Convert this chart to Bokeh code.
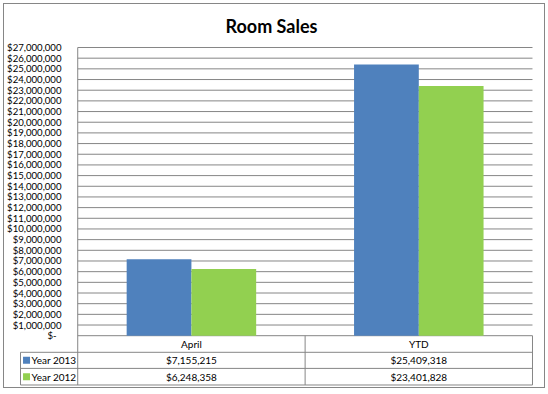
from bokeh.plotting import figure
from bokeh.models import ColumnDataSource, Range1d, FixedTicker, NumeralTickFormatter, LinearAxis
from bokeh.core.properties import value
from bokeh.embed import file_html
from bokeh.resources import INLINE

# ---- data ----
categories = ["April", "YTD"]
series_names = ["Year 2013", "Year 2012"]
year_2013 = [7155215, 25409318]
year_2012 = [6248358, 23401828]
series_colors = ["#4F81BD", "#92D050"]
y_ticks = [i * 1_000_000 for i in range(28)]

# ---- layout constants (pixels, canvas coordinates) ----
FONT = "Lato"
W, H = 540, 383
PLOT_L, PLOT_R = 73, 526     # plot area horizontal extent
CAT_PX = (PLOT_R - PLOT_L) / 2
U = 1.0 / CAT_PX             # x data units per pixel
TOP_Y, ZERO_Y = 43, 329.5    # canvas y of 27M and of 0
PX = 27e6 / (ZERO_Y - TOP_Y) # y data units per pixel
FRAME_L, FRAME_R = 15, 527
FRAME_T, FRAME_B = 41, 380
GRID = "#868686"

x0 = -(PLOT_L - FRAME_L) * U
x1 = 2 + (FRAME_R - PLOT_R) * U
y0 = -(FRAME_B - ZERO_Y) * PX
y1 = (ZERO_Y - FRAME_T) * PX

p = figure(width=W, height=H, output_backend="svg", toolbar_location=None,
           x_range=Range1d(x0, x1), y_range=Range1d(y0, y1),
           x_axis_type=None, y_axis_type=None,
           min_border_left=FRAME_L, min_border_right=W - FRAME_R,
           min_border_top=FRAME_T, min_border_bottom=H - FRAME_B,
           background_fill_color="white", border_fill_color="white",
           styles={"border": "1px solid #868686", "box-sizing": "content-box",
                   "margin": "3px 0 0 3px"})
p.grid.visible = False
p.outline_line_color = None

p.title.text = "Room Sales"
p.title.align = "left"
p.title.offset = 221 - FRAME_L
p.title.standoff = 17
p.title.text_font = FONT
p.title.text_font_size = "18px"
p.title.text_font_style = "bold"
p.title.text_color = "black"

# y axis (real axis, labels pulled right onto the plot's left side)
yaxis = LinearAxis(ticker=FixedTicker(ticks=y_ticks, minor_ticks=[]),
                   formatter=NumeralTickFormatter(format="$0,0"),
                   major_label_overrides={0: "$-\u00a0\u00a0"},
                   major_tick_line_color=None, minor_tick_line_color=None,
                   axis_line_color=None, major_label_standoff=-(63 - FRAME_L),
                   major_label_text_font=FONT, major_label_text_font_size="9.6px",
                   major_label_text_color="black")
p.add_layout(yaxis, "left")

n_cat = len(categories)
# gridlines across the plot area
p.segment(x0=[0] * len(y_ticks), x1=[n_cat] * len(y_ticks), y0=y_ticks, y1=y_ticks,
          line_color=GRID, line_width=1)

# bars
bar_w = 64.5 * U
centers = [i + 0.5 for i in range(n_cat)]
for k, (vals, col) in enumerate(zip([year_2013, year_2012], series_colors)):
    off = (k - 0.5) * bar_w
    src = ColumnDataSource(dict(x=[c + off for c in centers], top=vals))
    p.vbar(x="x", top="top", bottom=0, width=bar_w, source=src,
           fill_color=col, line_color=None)

# data table
row_lines = [-16.5 * PX, -32.5 * PX, -49 * PX]
leg_l = -57 * U
p.segment(x0=[leg_l] * 3, x1=[n_cat] * 3, y0=row_lines, y1=row_lines, line_color=GRID)
p.segment(x0=[0], x1=[0], y0=[y_ticks[-1]], y1=[row_lines[-1]], line_color=GRID)
vx = [leg_l] + [float(i) for i in range(1, n_cat + 1)]
vtop = [row_lines[0]] + [0] * n_cat
p.segment(x0=vx, x1=vx, y0=vtop, y1=[row_lines[-1]] * len(vx), line_color=GRID)

row_mid = [-8.25 * PX, -24.5 * PX, -40.75 * PX]
p.text(x=centers, y=[row_mid[0]] * n_cat, text=categories,
       text_font=value(FONT), text_font_size="10px", text_align="center",
       text_baseline="middle", text_color="black")
for k, vals in enumerate([year_2013, year_2012]):
    p.text(x=centers, y=[row_mid[k + 1]] * n_cat, text=["${:,}".format(v) for v in vals],
           text_font=value(FONT), text_font_size="10px", text_align="center",
           text_baseline="middle", text_color="black")

# legend keys inside the table
p.rect(x=[-51 * U] * 2, y=row_mid[1:], width=7, height=7, width_units="screen",
       height_units="screen", fill_color=series_colors, line_color=None)
p.text(x=[-46 * U] * 2, y=row_mid[1:], text=series_names,
       text_font=value(FONT), text_font_size="10px", text_align="left",
       text_baseline="middle", text_color="black")

open("out.html", "w").write(file_html(p, INLINE))
